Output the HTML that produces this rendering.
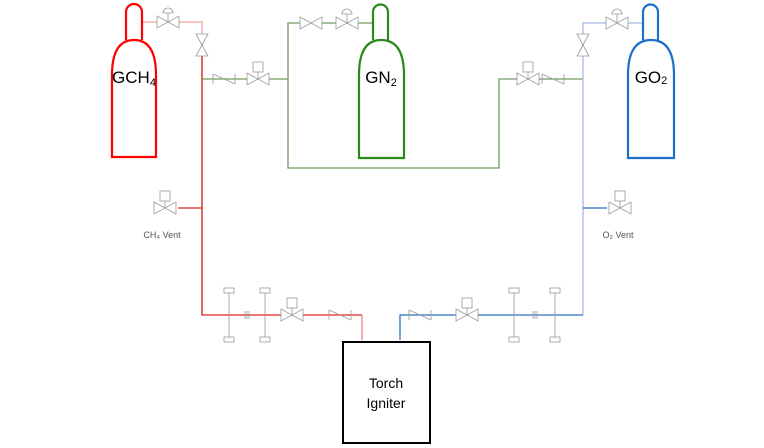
<!DOCTYPE html>
<html><head><meta charset="utf-8"><style>
body{margin:0;background:#fff}
svg{display:block;font-family:"Liberation Sans",sans-serif}
</style></head><body>
<svg width="764" height="448" viewBox="0 0 764 448">
<g fill="none" stroke-width="1.3">
<path d="M141 22H202V315" stroke="#f4a5a5"/>
<path d="M202 40V315H362" stroke="#e02020"/>
<path d="M362 315V340" stroke="#f08080"/>
<path d="M202 208H178" stroke="#e02020"/>
<path d="M202 79H288V23H373M288 79V168H499V79H583" stroke="#6f9a5f"/>
<path d="M643 23H583V315" stroke="#a9bbe3"/>
<path d="M583 208H607" stroke="#2f6fbf"/>
<path d="M583 315H400V340" stroke="#2f6fbf"/>
</g>
<path d="M126 40V12A8 8 0 0 1 142 12V40M112 157V75Q112 40 134 40Q156 40 156 75V157Z" fill="#fff" stroke="#f00" stroke-width="2.2"/>
<path d="M373 40V12A7.5 7.5 0 0 1 388 12V40M359 158V75Q359 40 381 40Q404 40 404 75V158Z" fill="#fff" stroke="#2a8a1a" stroke-width="2.2"/>
<path d="M643 40V12A7.5 7.5 0 0 1 658 12V40M628 158V75Q628 40 651 40Q674 40 674 75V158Z" fill="#fff" stroke="#1e6fc8" stroke-width="2.2"/>
<text x="134" y="83" font-size="17" text-anchor="middle">GCH<tspan font-size="11" dy="3">4</tspan></text>
<text x="381" y="83" font-size="17" text-anchor="middle">GN<tspan font-size="11" dy="3">2</tspan></text>
<text x="651" y="83" font-size="17" text-anchor="middle">GO<tspan font-size="11" dy="1">2</tspan></text>
<rect x="343" y="342" width="87" height="101" fill="#fff" stroke="#000" stroke-width="2"/>
<text x="386" y="388" font-size="14" text-anchor="middle">Torch</text>
<text x="386" y="408" font-size="14" text-anchor="middle">Igniter</text>
<text x="162" y="238" font-size="9" fill="#555" text-anchor="middle">CH₄ Vent</text>
<text x="618" y="238" font-size="9" fill="#555" text-anchor="middle">O₂ Vent</text>
<g id="sym" fill="#fff" stroke="#999" stroke-width="0.8"></g>
</svg>
<script>
const g=document.getElementById('sym');
const NS='http://www.w3.org/2000/svg';
function el(t,a,name){const e=document.createElementNS(NS,t);for(const k in a)e.setAttribute(k,a[k]);


g.appendChild(e);return e;}
function hvalve(x,y,name,top){el('path',{d:`M${x-11} ${y-6}L${x+11} ${y+6}V${y-6}L${x-11} ${y+6}Z`},name);
 if(top==='reg')el('path',{d:`M${x} ${y}V${y-9}M${x-5} ${y-9}A5 5 0 0 1 ${x+5} ${y-9}Z`},name+'-actuator');
 if(top==='sol')el('rect',{x:x-5,y:y-17,width:10,height:10},name+'-actuator');
 if(top==='sol')el('path',{d:`M${x} ${y}V${y-7}`},name+'-stem');}
function vvalve(x,y,name){el('path',{d:`M${x-6} ${y-11}L${x+6} ${y+11}H${x-6}L${x+6} ${y-11}Z`},name);}
function check(x,y,name){el('path',{d:`M${x-11} ${y-5}V${y+5}M${x-11} ${y-5}L${x+11} ${y+5}M${x+11} ${y-5}V${y+5}`},name);}
function pt(x,y,name){el('path',{d:`M${x} ${y-22}V${y+22}`},name+'-stem');el('rect',{x:x-5,y:y-27,width:10,height:5},name+'-top');el('rect',{x:x-5,y:y+22,width:10,height:5},name+'-bottom');}
function orifice(x,y,name){el('path',{d:`M${x-2} ${y-4}V${y+4}M${x} ${y-4}V${y+4}M${x+2} ${y-4}V${y+4}`},name);}
hvalve(168,22,'ch4-regulator','reg');vvalve(202,45,'ch4-hand-valve');
check(224,79,'ch4-purge-check');hvalve(258,79,'ch4-purge-solenoid','sol');
hvalve(311,23,'gn2-hand-valve');hvalve(347,23,'gn2-regulator','reg');
hvalve(528,79,'o2-purge-solenoid','sol');check(553,79,'o2-purge-check');
hvalve(617,23,'o2-regulator','reg');vvalve(583,45,'o2-hand-valve');
hvalve(165,208,'ch4-vent-valve','sol');hvalve(620,208,'o2-vent-valve','sol');
pt(229,315,'ch4-pt1');orifice(247,315,'ch4-orifice');pt(265,315,'ch4-pt2');
hvalve(292,315,'ch4-main-solenoid','sol');check(340,315,'ch4-check');
check(420,315,'o2-check');hvalve(467,315,'o2-main-solenoid','sol');
pt(514,315,'o2-pt1');orifice(535,315,'o2-orifice');pt(555,315,'o2-pt2');
</script>
</body></html>
